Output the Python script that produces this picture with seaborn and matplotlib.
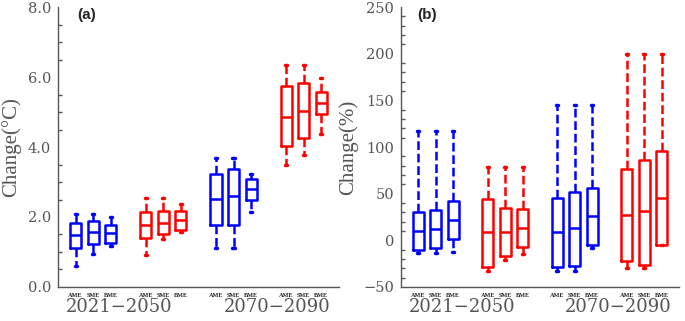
import numpy as np
import pandas as pd
import seaborn as sns
import matplotlib.pyplot as plt
from matplotlib.ticker import MultipleLocator

# box positions: three ensembles per block, blank slot between blocks
positions = [1, 2, 3, 5, 6, 7, 9, 10, 11, 13, 14, 15]
members = ['AME', 'SME', 'BME'] * 4
box_colors = ['blue', 'red', 'blue', 'red']
periods = ['2021\u22122050', '2070\u22122090']

# five-number summaries: lower whisker, Q1, median, Q3, upper whisker
temp_stats = [
    [0.59, 1.11, 1.49, 1.82, 2.09],
    [0.95, 1.23, 1.57, 1.88, 2.09],
    [1.18, 1.26, 1.54, 1.76, 1.99],
    [0.92, 1.41, 1.77, 2.13, 2.55],
    [1.37, 1.50, 1.84, 2.18, 2.55],
    [1.56, 1.62, 1.91, 2.16, 2.36],
    [1.10, 1.77, 2.51, 3.24, 3.70],
    [1.10, 1.77, 2.60, 3.37, 3.70],
    [2.13, 2.49, 2.80, 3.10, 3.23],
    [3.49, 4.02, 4.86, 5.73, 6.34],
    [3.77, 4.26, 5.04, 5.84, 6.34],
    [4.36, 4.93, 5.27, 5.58, 5.96],
]
precip_stats = [
    [-13.6, -10.7, 10.4, 30.7, 116.8],
    [-13.6, -8.2, 12.5, 32.1, 116.8],
    [-12.5, 1.4, 22.1, 41.8, 116.8],
    [-33.2, -28.6, 8.9, 44.6, 78.6],
    [-20.7, -17.1, 8.9, 34.6, 78.6],
    [-14.3, -7.1, 13.2, 33.6, 78.6],
    [-33.2, -28.6, 8.9, 45.0, 145.0],
    [-33.2, -27.1, 13.2, 52.1, 145.0],
    [-8.2, -4.6, 25.7, 56.1, 145.0],
    [-30.0, -22.1, 27.5, 76.8, 200.0],
    [-30.0, -26.1, 31.1, 86.1, 200.0],
    [-5.4, -5.4, 45.4, 95.4, 200.0],
]


def to_frame(stats):
    rows = []
    for i, s in enumerate(stats):
        for v in s:
            rows.append({'pos': positions[i], 'value': v, 'block': i // 3})
    return pd.DataFrame(rows)


sns.set_style('white')
gray = '#555555'
serif = ['DejaVu Serif']

fig = plt.figure(figsize=(6.85, 3.21), dpi=100)
ax_a = fig.add_axes([0.0847, 0.106, 0.410, 0.872])
ax_b = fig.add_axes([0.5854, 0.106, 0.406, 0.872])

panels = [
    (ax_a, temp_stats, (0, 8), 2, 0.5, 'Change(\u00b0C)', '(a)', -0.13, 0.068),
    (ax_b, precip_stats, (-50, 250), 50, 10, 'Change(%)', '(b)', -0.155, 0.058),
]

for ax, stats, ylim, major, minor, ylabel, tag, lab_x, tag_x in panels:
    df = to_frame(stats)
    for b in range(4):
        sub = df[df['block'] == b]
        c = box_colors[b]
        sns.boxplot(data=sub, x='pos', y='value', native_scale=True, fill=False,
                    color=c, linecolor=c, width=0.63, whis=(0, 100), linewidth=1.8,
                    whiskerprops={'linestyle': (0, (3.5, 1.5))},
                    capprops={'linewidth': 2.5}, capwidths=0.12,
                    showfliers=False, ax=ax)

    ax.set_xlim(0, 16)
    ax.set_ylim(*ylim)
    ax.yaxis.set_major_locator(MultipleLocator(major))
    ax.yaxis.set_minor_locator(MultipleLocator(minor))
    if ylim[1] == 8:
        ax.set_yticklabels([f'{t:.1f}' for t in ax.get_yticks()])
    else:
        ax.set_yticklabels([f'{int(t)}'.replace('-', '\u2212') for t in ax.get_yticks()])
    ax.set_ylim(*ylim)

    ax.set_xticks(positions)
    ax.set_xticklabels(members, fontsize=4.5, fontweight='bold',
                       family=['Liberation Serif'], color='#222222')
    ax.tick_params(axis='x', direction='in', length=5, width=1, color=gray, pad=4)
    ax.tick_params(axis='y', which='major', direction='in', length=6, width=1,
                   color=gray, labelcolor=gray, labelsize=10.5, pad=5)
    ax.tick_params(axis='y', which='minor', direction='in', length=3, width=1,
                   color=gray, left=True)
    for lab in ax.get_yticklabels():
        lab.set_family(serif)

    ax.set_xlabel('')
    ax.set_ylabel(ylabel, fontsize=15, color=gray, family=['Liberation Serif'])
    ax.yaxis.set_label_coords(lab_x, 0.5)

    for side in ['top', 'right']:
        ax.spines[side].set_visible(False)
    for side in ['left', 'bottom']:
        ax.spines[side].set_color(gray)
        ax.spines[side].set_linewidth(1)

    for px, period in zip([3.5, 12.5], periods):
        ax.text(px, -0.072, period, transform=ax.get_xaxis_transform(),
                ha='center', va='center', fontsize=13, color=gray, family=serif)

    ax.text(tag_x, 0.972, tag, transform=ax.transAxes, fontsize=11,
            fontweight='bold', ha='left', va='center', family=['Liberation Sans'])

fig.savefig('out.png', dpi=100)
